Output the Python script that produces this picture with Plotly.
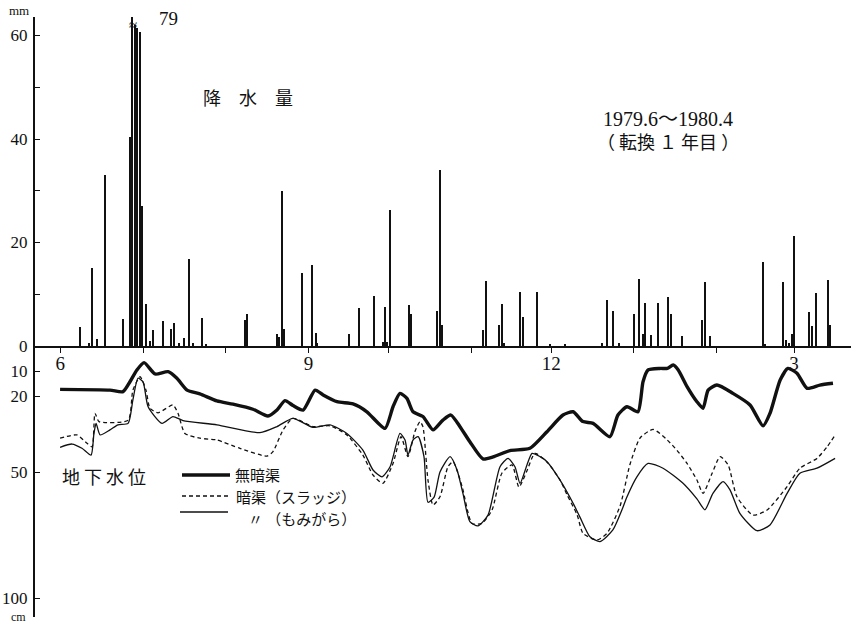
import plotly.graph_objects as go

# ---------------- data ----------------
# days counted from 1979-06-01
month_days = [-1, 30, 61, 92, 122, 153, 183, 214, 245, 274]
month_labels = ["6", "", "", "9", "", "", "12", "", "", "3"]

rain_day = [6.4, 9.7, 10.8, 12.9, 15.9, 22.6, 25.1, 26.0, 27.0, 27.7, 28.7, 29.5, 31.0, 32.6, 33.8,
            37.6, 40.4, 41.6, 43.5, 45.4, 47.3, 48.7, 52.2, 53.5, 68.2, 69.1, 80.1, 81.0, 82.1, 82.9,
            89.7, 93.4, 94.7, 95.3, 107.2, 110.9, 116.6, 120.1, 120.7, 121.6, 122.7, 129.6, 130.4,
            140.3, 141.3, 141.9, 157.5, 158.5, 163.4, 164.4, 165.3, 171.3, 172.3, 177.5, 182.5, 188.2,
            201.9, 204.0, 206.3, 208.4, 213.9, 216.0, 217.3, 218.3, 220.3, 222.9, 226.9, 227.9, 231.9,
            239.6, 240.7, 242.6, 262.4, 263.1, 269.9, 271.0, 272.1, 273.1, 274.0, 279.7, 280.8, 282.2,
            286.7, 287.5]
rain_mm = [3.6, 0.5, 15.0, 1.4, 33.0, 5.3, 40.4, 79.0, 62.0, 61.4, 60.6, 27.0, 8.2, 1.0, 3.0,
           4.9, 3.2, 4.5, 0.6, 1.5, 16.8, 0.5, 5.5, 0.4, 5.0, 6.2, 2.3, 1.7, 30.0, 3.3,
           14.1, 15.7, 2.6, 0.5, 2.3, 7.4, 9.7, 0.8, 7.5, 0.8, 26.3, 7.9, 6.2,
           6.8, 34.0, 4.1, 3.0, 12.5, 4.1, 8.1, 0.5, 10.5, 5.7, 10.5, 0.4, 0.3,
           0.5, 8.8, 6.8, 0.6, 6.1, 12.9, 2.4, 8.4, 2.1, 8.3, 9.5, 6.1, 1.9,
           5.0, 12.4, 1.9, 16.3, 0.4, 12.3, 1.1, 0.6, 2.3, 21.2, 6.5, 3.8, 10.3,
           12.7, 4.0]

none_day = [-1.1, 17.6, 22.5, 25.1, 27.7, 30.4, 34.5, 39.4, 42.7, 46.5, 51.3, 57.7, 63.7, 71.2, 76.8,
            80.2, 83.2, 86.2, 90.0, 94.5, 97.5, 102.7, 108.7, 113.9, 120.7, 123.7, 126.3, 128.9, 131.2,
            134.9, 138.7, 142.4, 145.4, 148.8, 152.5, 157.4, 161.2, 167.5, 175.0, 181.4, 187.4, 191.2,
            194.9, 198.7, 205.0, 208.0, 211.4, 215.5, 217.4, 219.3, 223.8, 226.5, 228.7, 230.6, 233.9,
            237.6, 239.9, 241.8, 245.1, 251.1, 257.5, 262.4, 265.0, 268.8, 271.7, 275.1, 278.9, 283.7,
            288.6]
none_cm = [17.2, 17.5, 18.1, 14.2, 9.5, 6.6, 11.1, 10.2, 12.8, 17.5, 19.0, 21.8, 23.1, 25.1, 27.8,
           25.4, 21.7, 23.6, 25.4, 17.5, 19.4, 22.1, 23.0, 26.1, 32.7, 24.1, 18.8, 20.8, 26.1,
           28.0, 33.3, 29.4, 27.4, 32.0, 38.0, 44.8, 44.0, 41.5, 40.6, 34.0, 27.4, 26.1,
           30.0, 30.7, 36.0, 27.4, 24.1, 26.1, 14.2, 9.5, 8.9, 8.9, 7.5, 9.5, 16.1,
           22.1, 24.7, 17.5, 15.5, 18.8, 23.4, 31.7, 26.7, 13.5, 8.9, 10.8, 16.8, 15.5,
           14.8]

sludge_day = [-1.1, 5.2, 9.0, 10.9, 12.0, 13.5, 24.4, 26.2, 28.9, 31.1, 32.6, 35.6, 41.2, 43.1, 45.7,
              51.3, 57.7, 66.3, 76.5, 78.7, 82.5, 86.2, 93.7, 100.1, 106.4, 112.4, 116.2, 119.9, 123.7,
              126.7, 129.3, 131.9, 133.8, 134.9, 136.8, 138.7, 141.3, 144.3, 146.2, 149.6, 153.3, 157.0,
              160.8, 164.5, 168.3, 170.9, 173.9, 176.9, 181.4, 186.2, 188.9, 192.7, 194.9, 200.1, 203.9,
              208.8, 212.5, 216.3, 221.2, 226.5, 230.2, 233.9, 237.6, 239.9, 243.3, 246.3, 249.3, 252.6,
              258.6, 263.9, 271.4, 276.2, 282.6, 286.4, 289.4]
sludge_cm = [36.6, 35.3, 38.6, 40.0, 26.7, 30.0, 29.4, 17.5, 12.2, 17.5, 24.7, 26.5, 23.4, 26.7, 34.7,
             36.6, 37.3, 40.6, 43.7, 41.9, 33.3, 28.7, 32.0, 31.7, 35.3, 43.3, 51.2, 54.5, 46.6,
             36.0, 43.9, 34.0, 30.0, 32.0, 53.2, 63.1, 59.8, 47.9, 45.9, 55.8, 70.4, 70.4,
             65.1, 50.5, 47.2, 56.0, 49.5, 42.6, 46.0, 53.0, 59.0, 67.0, 74.3, 77.0, 74.3,
             63.5, 47.0, 36.5, 33.1, 37.3, 41.5, 46.6, 53.2, 58.5, 50.5, 43.9, 47.2, 59.8,
             67.1, 65.1, 55.8, 48.5, 44.6, 40.0, 35.3]

husk_day = [-1.1, 3.4, 7.1, 10.5, 11.6, 12.4, 13.9, 17.6, 20.6, 24.4, 26.2, 28.1, 30.0, 31.9, 37.1,
            41.2, 45.0, 57.7, 73.8, 80.2, 86.2, 93.7, 100.1, 106.4, 112.4, 116.2, 119.6, 122.6, 126.3,
            128.2, 129.3, 131.2, 133.1, 135.3, 136.8, 139.1, 141.3, 145.1, 147.7, 149.9, 152.5, 155.5,
            159.3, 163.8, 166.8, 169.4, 171.3, 173.9, 175.8, 178.8, 181.4, 186.3, 191.2, 193.8, 197.5,
            201.3, 206.1, 209.5, 211.4, 215.1, 219.3, 224.9, 232.4, 237.6, 240.6, 243.6, 247.4, 250.0,
            253.7, 260.1, 265.0, 271.4, 276.2, 282.6, 289.4]
husk_cm = [40.2, 38.9, 40.6, 43.3, 34.7, 30.7, 35.3, 33.3, 31.3, 30.7, 21.4, 12.8, 14.2, 24.1, 30.7,
           28.0, 29.6, 31.3, 34.4, 32.0, 28.7, 32.3, 31.3, 34.7, 41.3, 49.2, 51.9, 47.9, 34.7,
           37.3, 43.3, 37.3, 36.0, 43.9, 62.0, 60.0, 50.0, 43.9, 49.2, 58.5, 69.7, 71.4,
           67.1, 47.9, 44.6, 47.9, 54.5, 47.2, 42.6, 43.9, 45.9, 53.2, 62.4, 68.0, 75.7,
           77.6, 73.0, 65.0, 59.8, 51.9, 46.6, 48.5, 54.5, 60.7, 65.0, 58.5, 53.8, 57.1,
           66.4, 73.3, 71.0, 58.5, 50.5, 48.5, 44.6]

rain_ticks = [0, 10, 20, 30, 40, 50, 60]
rain_ticktext = ["0", "", "20", "", "40", "", "60"]
gw_ticks = [10, 20, 50, 100]
gw_ticktext = ["10", "20", "50", "100"]

legend_names = ["無暗渠", "暗渠（スラッジ）", "〃 （もみがら）"]

# ---------------- layout geometry ----------------
W, H = 851, 631
ML, MR, MT, MB = 35, 0, 17, 14
PW, PH = W - ML - MR, H - MT - MB


def fx(p):
    return (p - ML) / PW


def fy(p):
    return (H - MB - p) / PH


split = fy(346)
black = "#111111"
serif = "Liberation Serif, Noto Sans CJK JP"
jp = "Noto Sans CJK JP"

fig = go.Figure()
fig.add_trace(go.Bar(x=rain_day, y=rain_mm, width=0.42, marker=dict(color=black, line=dict(width=0)),
                     xaxis="x", yaxis="y2", showlegend=False, name="降水量"))
fig.add_trace(go.Scatter(x=none_day, y=none_cm, mode="lines", name=legend_names[0], showlegend=False,
                         line=dict(color=black, width=3.4, shape="spline", smoothing=0.6),
                         xaxis="x", yaxis="y"))
fig.add_trace(go.Scatter(x=sludge_day, y=sludge_cm, mode="lines", name=legend_names[1], showlegend=False,
                         line=dict(color=black, width=1.3, dash="4px,3px", shape="spline", smoothing=0.6),
                         xaxis="x", yaxis="y"))
fig.add_trace(go.Scatter(x=husk_day, y=husk_cm, mode="lines", name=legend_names[2], showlegend=False,
                         line=dict(color=black, width=1.3, shape="spline", smoothing=0.6),
                         xaxis="x", yaxis="y"))

x0 = (ML - 63) / 2.668
x1 = (W - MR - 63) / 2.668

fig.update_layout(
    width=W, height=H, margin=dict(l=ML, r=MR, t=MT, b=MB),
    paper_bgcolor="white", plot_bgcolor="white",
    bargap=0,
    xaxis=dict(range=[x0, x1], anchor="y2", showline=True, linecolor=black, linewidth=1.5,
               tickvals=month_days, ticktext=month_labels, ticks="outside", ticklen=5,
               tickcolor=black, tickwidth=1.2, showgrid=False, zeroline=False, ticklabelstandoff=-6,
               tickfont=dict(family=serif, size=19, color=black)),
    yaxis=dict(domain=[0, split], range=[(H - MB - 346) / 2.52, 0], anchor="x",
               showline=True, linecolor=black, linewidth=2, tickvals=gw_ticks, ticktext=gw_ticktext,
               ticks="inside", ticklen=5, tickcolor=black, tickwidth=1.2, showgrid=False, zeroline=False,
               ticklabelstandoff=2, tickfont=dict(family=serif, size=17, color=black)),
    yaxis2=dict(domain=[split, 1], range=[0, (346 - MT) / 5.175], anchor="x",
                showline=True, linecolor=black, linewidth=2, tickvals=rain_ticks, ticktext=rain_ticktext,
                ticks="inside", ticklen=5, tickcolor=black, tickwidth=1.2, showgrid=False, zeroline=False,
                ticklabelstandoff=2, tickfont=dict(family=serif, size=17, color=black)),
)


def ann(text, x, y, size, family=jp, xanchor="center", yanchor="middle", align="center"):
    fig.add_annotation(text=text, x=fx(x), y=fy(y), xref="paper", yref="paper", showarrow=False,
                       xanchor=xanchor, yanchor=yanchor, align=align,
                       font=dict(family=family, size=size, color=black))


ann("mm", 19, 11, 13, serif)
ann("cm", 18, 617, 12, serif)
ann("79", 168, 18, 19, serif)
ann("≈", 133, 25, 15, serif)
ann("降　水　量", 248, 97, 18)
ann("1979.6～1980.4", 668, 119, 20, serif)
ann("（ 転換 １ 年目 ）", 668, 141, 18)
ann("地 下 水 位", 104, 476, 18)
ann(legend_names[0], 233, 474, 15, jp, "left")
ann(legend_names[1], 234, 496, 15, jp, "left")
ann(legend_names[2], 246, 518, 15, jp, "left")

# legend line samples
fig.add_shape(type="line", xref="paper", yref="paper", x0=fx(182), x1=fx(230), y0=fy(475), y1=fy(475),
              line=dict(color=black, width=3.4))
fig.add_shape(type="line", xref="paper", yref="paper", x0=fx(182), x1=fx(228), y0=fy(496), y1=fy(496),
              line=dict(color=black, width=1.3, dash="4px,3px"))
fig.add_shape(type="line", xref="paper", yref="paper", x0=fx(180), x1=fx(228), y0=fy(512), y1=fy(512),
              line=dict(color=black, width=1.3))

fig.write_html("out.html", config={"displayModeBar": False},
               post_script="document.body.style.margin='0';")
